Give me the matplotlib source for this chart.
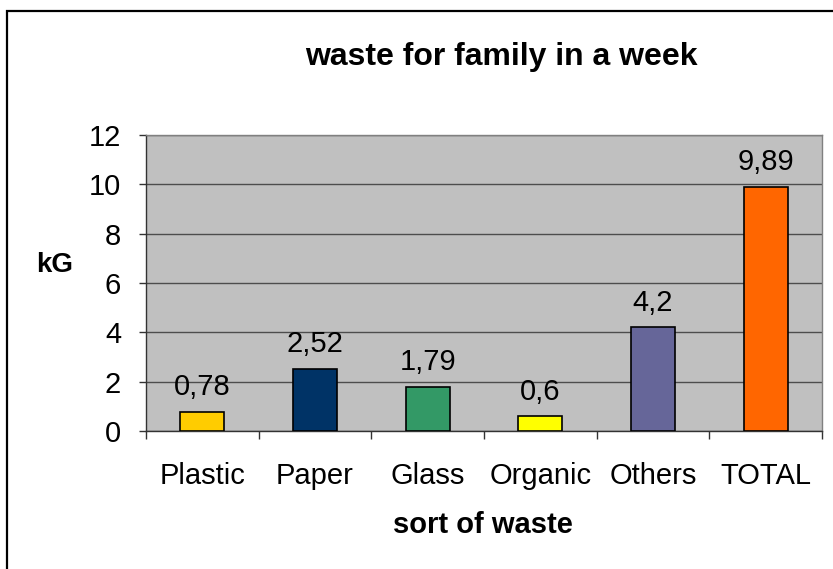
import matplotlib
matplotlib.use("Agg")
import matplotlib.pyplot as plt
from matplotlib.patches import Rectangle

categories = ["Plastic", "Paper", "Glass", "Organic", "Others", "TOTAL"]
values = [0.78, 2.52, 1.79, 0.6, 4.2, 9.89]
bar_colors = ["#FFCC00", "#003366", "#339966", "#FFFF00", "#666699", "#FF6600"]
y_ticks = [0, 2, 4, 6, 8, 10, 12]

plt.rcParams["font.family"] = ["Liberation Sans", "DejaVu Sans"]

W, H = 833, 569
fig = plt.figure(figsize=(W / 100, H / 100), dpi=100)
fig.patch.set_facecolor("white")

# outer chart border (only left and top edges fall inside the image)
fig.patches.append(Rectangle((7 / W, -0.1), 1.2, (H - 11) / H + 0.1,
                             transform=fig.transFigure, fill=False,
                             edgecolor="black", linewidth=1.6))

ax = fig.add_axes([146 / W, 1 - 431 / H, (822 - 146) / W, (431 - 135) / H])
ax.set_facecolor("#C0C0C0")

x = list(range(len(categories)))
ax.bar(x, values, width=0.39, color=bar_colors, edgecolor="black",
       linewidth=1.2, zorder=3)

for xi, v in zip(x, values):
    ax.annotate(f"{v:g}".replace(".", ","), (xi, v), xytext=(0, 12),
                textcoords="offset points", ha="center", va="baseline",
                fontsize=21, zorder=4)

ax.set_xlim(-0.5, len(categories) - 0.5)
ax.set_ylim(0, 12)
ax.set_yticks(y_ticks)
ax.yaxis.grid(True, color="#4d4d4d", linewidth=1.0, zorder=1)
ax.set_axisbelow(True)

# category boundaries get the ticks, names sit in between
ax.set_xticks([i - 0.5 for i in range(len(categories) + 1)])
ax.set_xticklabels([])
ax.set_xticks(x, minor=True)
ax.set_xticklabels(categories, minor=True)
ax.tick_params(axis="x", which="major", direction="out", length=6,
               width=1, color="#333333")
ax.tick_params(axis="x", which="minor", length=0, pad=22, labelsize=21)
ax.tick_params(axis="y", direction="out", length=5, width=1,
               color="#333333", pad=13, labelsize=21)

for side in ["top", "right"]:
    ax.spines[side].set_color("#808080")
    ax.spines[side].set_linewidth(1.0)
for side in ["left", "bottom"]:
    ax.spines[side].set_color("#333333")
    ax.spines[side].set_linewidth(1.0)

fig.text(501 / W, 1 - 57 / H, "waste for family in a week", ha="center",
         va="center", fontsize=23, fontweight="bold")
fig.text(483 / W, 1 - 525 / H, "sort of waste", ha="center", va="center",
         fontsize=21, fontweight="bold")
fig.text(55 / W, 1 - 265 / H, "kG", ha="center", va="center",
         fontsize=20, fontweight="bold")

fig.savefig("out.png", dpi=100)
